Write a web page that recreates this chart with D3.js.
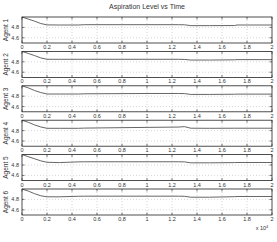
<!DOCTYPE html>
<html><head><meta charset="utf-8">
<script src="https://cdn.jsdelivr.net/npm/d3@7"></script>
<style>body{margin:0;background:#fff}svg{display:block}text{font-family:"Liberation Sans",Arial,sans-serif}</style>
</head><body>
<script>
const title = "Aspiration Level vs Time";
const agents = ["Agent 1","Agent 2","Agent 3","Agent 4","Agent 5","Agent 6"];
const xTicks = [0,0.2,0.4,0.6,0.8,1,1.2,1.4,1.6,1.8,2];
const yTicks = [4.6,4.8];
const times = [0,0.05,0.1,0.15,0.2,0.3,0.45,0.5,1.0,1.25,1.3,1.35,1.5,1.7,1.72,2];
const series = [
  [5.0,4.96,4.92,4.875,4.848,4.846,4.846,4.852,4.852,4.852,4.85,4.834,4.834,4.836,4.846,4.846],
  [5.0,4.96,4.92,4.875,4.848,4.848,4.848,4.848,4.848,4.848,4.846,4.834,4.834,4.838,4.842,4.842],
  [5.0,4.96,4.91,4.87,4.842,4.842,4.842,4.846,4.852,4.852,4.85,4.834,4.834,4.838,4.840,4.840],
  [5.0,4.96,4.91,4.87,4.844,4.844,4.844,4.848,4.862,4.868,4.876,4.846,4.844,4.846,4.846,4.846],
  [5.0,4.96,4.92,4.88,4.852,4.846,4.86,4.862,4.862,4.862,4.86,4.842,4.842,4.846,4.848,4.848],
  [5.0,4.96,4.91,4.87,4.85,4.85,4.86,4.862,4.862,4.862,4.86,4.842,4.842,4.852,4.856,4.856]
];
const W=277,H=242;
const left=22,right=272,top0=17,ph=26,step=34.4;
const svg=d3.select("body").append("svg").attr("width",W).attr("height",H);
svg.append("text").attr("x",147).attr("y",9).attr("text-anchor","middle").attr("font-size",7).attr("fill","#333").text(title);
const x=d3.scaleLinear().domain([0,2]).range([left,right]);
agents.forEach((name,i)=>{
  const t=top0+i*step;
  const y=d3.scaleLinear().domain([4.5,5.0]).range([t+ph,t]);
  const g=svg.append("g");
  // grid
  g.selectAll(".gx").data(xTicks.slice(1,-1)).join("line").attr("x1",d=>x(d)).attr("x2",d=>x(d)).attr("y1",t).attr("y2",t+ph).attr("stroke","#bbb").attr("stroke-width",0.6).attr("stroke-dasharray","1,2");
  g.selectAll(".gy").data(yTicks).join("line").attr("x1",left).attr("x2",right).attr("y1",d=>y(d)).attr("y2",d=>y(d)).attr("stroke","#bbb").attr("stroke-width",0.6).attr("stroke-dasharray","1,2");
  // line
  const line=d3.line().x((d,j)=>x(times[j])).y(d=>y(d));
  g.append("path").datum(series[i]).attr("d",line).attr("fill","none").attr("stroke","#555").attr("stroke-width",0.9);
  // frame
  g.append("rect").attr("x",left).attr("y",t).attr("width",right-left).attr("height",ph).attr("fill","none").attr("stroke","#222").attr("stroke-width",0.8);
  // ticks
  xTicks.forEach(v=>{
    g.append("line").attr("x1",x(v)).attr("x2",x(v)).attr("y1",t+ph).attr("y2",t+ph-2.5).attr("stroke","#222").attr("stroke-width",0.6);
    g.append("line").attr("x1",x(v)).attr("x2",x(v)).attr("y1",t).attr("y2",t+2.5).attr("stroke","#222").attr("stroke-width",0.6);
  });
  yTicks.forEach(v=>{
    g.append("line").attr("x1",left).attr("x2",left+2.5).attr("y1",y(v)).attr("y2",y(v)).attr("stroke","#222").attr("stroke-width",0.6);
    g.append("line").attr("x1",right).attr("x2",right-2.5).attr("y1",y(v)).attr("y2",y(v)).attr("stroke","#222").attr("stroke-width",0.6);
  });
  g.selectAll(".xl").data(xTicks).join("text").attr("x",d=>x(d)).attr("y",t+ph+6).attr("text-anchor","middle").attr("font-size",5.5).attr("fill","#333").text(d=>d);
  g.selectAll(".yl").data(yTicks).join("text").attr("x",left-3).attr("y",d=>y(d)+2).attr("text-anchor","end").attr("font-size",5.5).attr("fill","#333").text(d=>d.toFixed(1));
  g.append("text").attr("transform",`translate(8,${t+ph/2}) rotate(-90)`).attr("text-anchor","middle").attr("font-size",6.5).attr("fill","#333").text(name);
});
const xt=svg.append("text").attr("x",262).attr("y",230).attr("font-size",5.5).attr("fill","#333").attr("text-anchor","middle");
xt.append("tspan").text("x 10");
xt.append("tspan").attr("dy",-2).attr("font-size",4).text("4");
</script>
</body></html>
